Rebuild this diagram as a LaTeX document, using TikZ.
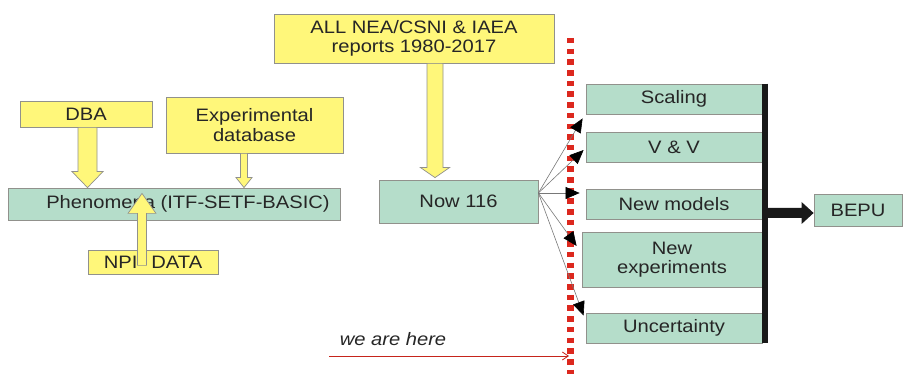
\documentclass[tikz,border=0pt]{standalone}
\usepackage{fontspec}
\setmainfont{Liberation Sans}[FakeStretch=1.12]
\usetikzlibrary{arrows.meta,calc}
\definecolor{yfill}{RGB}{255,247,122}
\definecolor{gfill}{RGB}{181,221,202}
\definecolor{bord}{RGB}{145,145,140}
\definecolor{rline}{RGB}{220,40,30}
\definecolor{thinc}{RGB}{120,120,120}
\begin{document}
\begin{tikzpicture}[x=1pt,y=-1pt,
  box/.style={draw=bord,line width=0.8pt,inner sep=0pt,align=center,text=black!85,
    font=\fontsize{18}{19.5}\selectfont},
  ybox/.style={box,fill=yfill},
  gbox/.style={box,fill=gfill},
  fat/.style={draw=bord,line width=0.7pt,fill=yfill},
  fan/.style={draw=thinc,line width=0.6pt,-{Triangle[length=14pt,width=12pt,color=black]}},
  redline/.style={draw=rline,line width=6.5pt,dash pattern=on 5.5pt off 5.2pt},
  hereline/.style={draw=rline!90!black,line width=0.8pt,-{Straight Barb[length=6pt,width=8pt]}},
  herelabel/.style={font=\fontsize{18}{19.5}\selectfont\itshape,text=black!85,inner sep=0pt},
]
\useasboundingbox (0,0) rectangle (908,374);

% left part
\node[ybox,minimum width=132pt,minimum height=26pt] (dba) at (86,114) {DBA};
\node[ybox,minimum width=177pt,minimum height=56pt] (exp) at (254.5,125) {Experimental\\database};
\node[gbox,minimum width=332pt,minimum height=32pt] (phen) at (174,204) {\hspace*{28pt}Phenomena (ITF-SETF-BASIC)};
\node[ybox,minimum width=130pt,minimum height=24pt] (npi) at (153,262) {NPI\hspace{14pt}DATA};

\draw[fat] let \p1=($(dba.south)+(1.5,0)$), \p2=(phen.north) in
  (\x1-9.5pt,\y1) -- (\x1-9.5pt,\y2+16pt) -- (\x1-15.5pt,\y2+16pt) -- (\x1,\y2)
  -- (\x1+15.5pt,\y2+16pt) -- (\x1+9.5pt,\y2+16pt) -- (\x1+9.5pt,\y1) -- cycle;
\draw[fat] let \p1=($(exp.south)+(-10.5,0)$), \p2=(phen.north) in
  (\x1-3.5pt,\y1) -- (\x1-3.5pt,\y2+10pt) -- (\x1-8pt,\y2+10pt) -- (\x1,\y2)
  -- (\x1+8pt,\y2+10pt) -- (\x1+3.5pt,\y2+10pt) -- (\x1+3.5pt,\y1) -- cycle;
\draw[fat] let \p1=($(npi.south)+(-11,-9)$), \p2=($(phen.south)+(0,-27)$) in
  (\x1-4.5pt,\y1) -- (\x1-4.5pt,\y2-20pt) -- (\x1-14pt,\y2-20pt) -- (\x1,\y2)
  -- (\x1+14pt,\y2-20pt) -- (\x1+4.5pt,\y2-20pt) -- (\x1+4.5pt,\y1) -- cycle;

% middle part
\node[ybox,minimum width=280pt,minimum height=49pt] (all) at (414,38.5) {ALL NEA/CSNI \& IAEA\\reports 1980-2017};
\node[gbox,minimum width=159pt,minimum height=43pt] (now) at (458.5,201.5) {Now 116};
\draw[fat] let \p1=($(all.south)+(21,0)$), \p2=($(now.north)+(0,-2)$) in
  (\x1-8pt,\y1) -- (\x1-8pt,\y2+10pt) -- (\x1-14.5pt,\y2+10pt) -- (\x1,\y2)
  -- (\x1+14.5pt,\y2+10pt) -- (\x1+8pt,\y2+10pt) -- (\x1+8pt,\y1) -- cycle;

% right part
\node[gbox,minimum width=176pt,minimum height=30pt] (scal) at (674,99) {Scaling};
\node[gbox,minimum width=176pt,minimum height=30pt] (vv) at (674,147) {V \& V};
\node[gbox,minimum width=176pt,minimum height=30pt] (nm) at (674,204) {New models};
\node[gbox,minimum width=180pt,minimum height=55pt] (ne) at (672,259.5) {New\\experiments};
\node[gbox,minimum width=176pt,minimum height=30pt] (unc) at (674,328) {Uncertainty};
\node[gbox,minimum width=88pt,minimum height=32pt] (bepu) at (858,210) {BEPU};

\coordinate (barTop) at ($(scal.north east)+(3,0)$);
\coordinate (barBot) at ($(unc.south east)+(3,0)$);
\draw[line width=6pt,black!90] (barTop) -- (barBot);
\fill[black!90] let \p0=(barTop), \p1=($(bepu.west)+(0,3)$) in
  (\x0,\y1+5pt) -- (\x1-12pt,\y1+5pt) -- (\x1-12pt,\y1+11pt) -- (\x1,\y1)
  -- (\x1-12pt,\y1-11pt) -- (\x1-12pt,\y1-5pt) -- (\x0,\y1-5pt) -- cycle;

% red line
\coordinate (rtop) at (570.5,38);
\coordinate (rbot) at (570.5,374);
\draw[redline] (rtop) -- (rbot);

% fan arrows
\coordinate (fo) at ($(now.east)+(0,-8.5)$);
\coordinate (t1) at ($(scal.south west)+(-3,4)$);
\coordinate (t2) at ($(vv.west)+(-2,3)$);
\coordinate (t3) at ($(nm.west)+(-6,-11)$);
\coordinate (t4) at ($(ne.west)+(-5,-13.5)$);
\coordinate (t5) at ($(unc.north west)+(-2,3)$);
\foreach \t in {t1,t2,t3,t4,t5} \draw[fan] (fo) -- (\t);

% we are here
\node[herelabel] (wah) at (393,339) {we are here};
\coordinate (wstart) at (329,356);
\coordinate (wend) at (569,356);
\draw[hereline] (wstart) -- (wend);
\end{tikzpicture}
\end{document}
